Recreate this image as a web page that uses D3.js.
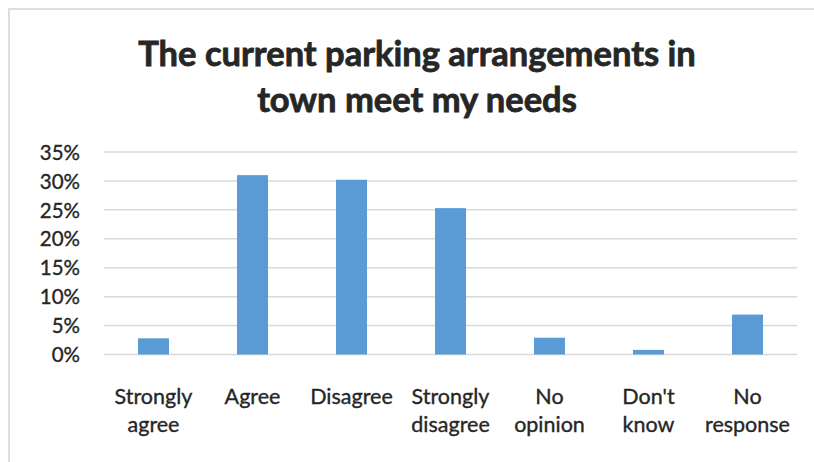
<!DOCTYPE html>
<html>
<head>
<meta charset="utf-8">
<script src="https://cdn.jsdelivr.net/npm/d3@7"></script>
<style>
  html, body { margin: 0; padding: 0; background: #fff; }
  svg { display: block; }
</style>
</head>
<body>
<svg id="chart" width="814" height="462"></svg>
<script>
// Survey responses: "The current parking arrangements in town meet my needs"
const titleLines = ["The current parking arrangements in", "town meet my needs"];
const categories = [
  ["Strongly", "agree"],
  ["Agree"],
  ["Disagree"],
  ["Strongly", "disagree"],
  ["No", "opinion"],
  ["Don't", "know"],
  ["No", "response"]
];
const shares = [0.028, 0.310, 0.302, 0.253, 0.029, 0.008, 0.069];
const yTicks = [0, 0.05, 0.10, 0.15, 0.20, 0.25, 0.30, 0.35];

const svg = d3.select("#chart");
const W = 814, H = 462;
const font = "Lato, 'Open Sans', sans-serif";
const ink = "#262626";

// frame
svg.append("path")
  .attr("d", `M9,${H} V9 H${W}`)
  .attr("fill", "none")
  .attr("stroke", "#dedede")
  .attr("stroke-width", 2);

// title
const title = svg.append("g");
titleLines.forEach((t, i) => {
  title.append("text")
    .attr("x", 417)
    .attr("y", 66 + i * 46)
    .attr("text-anchor", "middle")
    .attr("font-family", font)
    .attr("font-weight", 700)
    .attr("font-size", 34.5)
    .attr("fill", ink)
    .attr("stroke", ink)
    .attr("stroke-width", 0.8)
    .text(t);
});

const plot = { left: 104, right: 797, top: 152, bottom: 354.5 };

const x = d3.scaleBand()
  .domain(d3.range(categories.length))
  .range([plot.left, plot.right])
  .paddingInner(0.687)
  .paddingOuter(0.3435);

const y = d3.scaleLinear()
  .domain([0, 0.35])
  .range([plot.bottom, plot.top]);

// horizontal gridlines
svg.append("g")
  .selectAll("line")
  .data(yTicks)
  .join("line")
  .attr("x1", plot.left)
  .attr("x2", plot.right)
  .attr("y1", d => y(d))
  .attr("y2", d => y(d))
  .attr("stroke", "#d9d9d9")
  .attr("stroke-width", 1.5);

// y axis labels
const yAxis = d3.axisLeft(y)
  .tickValues(yTicks)
  .tickFormat(d3.format(".0%"))
  .tickSize(0)
  .tickPadding(0);
const yg = svg.append("g")
  .attr("transform", `translate(80,0)`)
  .call(yAxis);
yg.select(".domain").remove();
yg.selectAll("text")
  .attr("font-family", font)
  .attr("font-size", 20.5)
  .attr("fill", ink)
  .attr("stroke", ink)
  .attr("stroke-width", 0.35)
  .attr("dy", "0.35em");

// bars
svg.append("g")
  .selectAll("rect")
  .data(shares)
  .join("rect")
  .attr("x", (d, i) => x(i))
  .attr("width", x.bandwidth())
  .attr("y", d => y(d))
  .attr("height", d => y(0) - y(d))
  .attr("fill", "#5b9bd5");

// category labels
const xl = svg.append("g");
categories.forEach((lines, i) => {
  const t = xl.append("text")
    .attr("text-anchor", "middle")
    .attr("font-family", font)
    .attr("font-size", 21.5)
    .attr("fill", ink)
    .attr("stroke", ink)
    .attr("stroke-width", 0.35);
  lines.forEach((s, j) => {
    t.append("tspan")
      .attr("x", x(i) + x.bandwidth() / 2)
      .attr("y", 404 + j * 28)
      .text(s);
  });
});
</script>
</body>
</html>
